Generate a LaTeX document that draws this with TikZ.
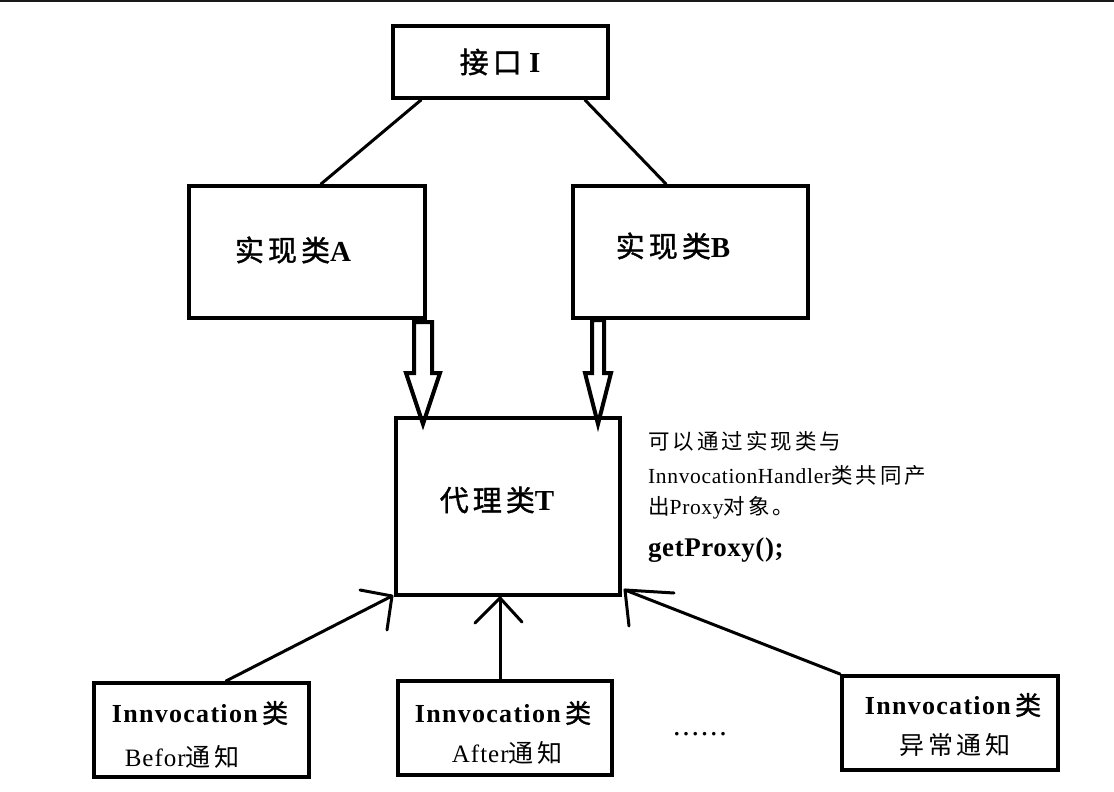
\documentclass[tikz,border=0pt]{standalone}
\usepackage{fontspec}
\setmainfont{Liberation Serif}
\newfontfamily\cjkfont[LetterSpace=14]{Noto Sans CJK SC}
\newfontfamily\cjkbfont[LetterSpace=14,FakeBold=1.2]{Noto Sans CJK SC}
\newcommand\zh[1]{{\cjkfont\mdseries #1}}
\newcommand\zhb[1]{{\cjkbfont\mdseries #1}}
\tikzset{
  box/.style={draw, line width=4pt, inner sep=0pt},
  conn/.style={line width=3pt, line cap=round, line join=round},
  hollow/.style={draw, line width=4pt, line join=miter},
  titletext/.style={inner sep=0pt, font=\fontsize{29}{34}\selectfont\bfseries},
  sidetext/.style={inner sep=0pt, anchor=west, font=\fontsize{21.5}{25}\selectfont\addfontfeature{LetterSpace=3}},
  innvtext/.style={inner sep=0pt, font=\fontsize{26}{30}\selectfont\bfseries\addfontfeature{LetterSpace=5}},
  notetext/.style={inner sep=0pt, font=\fontsize{25}{30}\selectfont\addfontfeature{LetterSpace=4}},
}
\begin{document}
\begin{tikzpicture}[x=1pt,y=-1pt]
\useasboundingbox (0,0) rectangle (1114,792);
\fill[white] (0,0) rectangle (1114,792);
\draw[line width=2pt, black!90] (0,1) -- (1114,1);

% boxes
\node[box, minimum width=215, minimum height=72] (I) at (500.5,62) {};
\node[box, minimum width=236, minimum height=132] (A) at (307,252) {};
\node[box, minimum width=235, minimum height=132] (B) at (690.5,252) {};
\node[box, minimum width=224, minimum height=177] (T) at (508,506.5) {};
\node[box, minimum width=215, minimum height=94] (N1) at (201.5,730) {};
\node[box, minimum width=214, minimum height=94] (N2) at (505,728) {};
\node[box, minimum width=216, minimum height=94] (N3) at (950,723) {};

% box texts
\node[titletext] (tI) at (500,62) {\zhb{接口} I};
\node[titletext] (tA) at (293,250) {\zhb{实现类}A};
\node[titletext] (tB) at (673,246) {\zhb{实现类}B};
\node[titletext] (tT) at (497,500) {\zhb{代理类}T};

\node[innvtext] (n1a) at (200,713) {Innvocation\,\zhb{类}};
\node[notetext] (n1b) at (182,757) {Befor\zh{通知}};
\node[innvtext] (n2a) at (503,713) {Innvocation\,\zhb{类}};
\node[notetext] (n2b) at (507,753) {After\zh{通知}};
\node[innvtext] (n3a) at (953,705) {Innvocation\,\zhb{类}};
\node[notetext] (n3b) at (955,745) {\zh{异常通知}};

% side text
\node[sidetext] (s1) at (648,441) {\zh{可以通过实现类与}};
\node[sidetext] (s2) at (648,475) {InnvocationHandler\zh{类共同产}};
\node[sidetext] (s3) at (648,508) {\zh{出}Proxy\zh{对象。}};
\node[sidetext, font=\fontsize{27}{30}\selectfont\bfseries\addfontfeature{LetterSpace=2}] (s4) at (648,550) {getProxy();};

\node[inner sep=0pt, font=\fontsize{30}{34}\selectfont\addfontfeature{LetterSpace=6}] (dots) at (700,734) {......};

% lines from interface
\coordinate (i1) at ([xshift=30]I.south west);
\coordinate (a1) at ([xshift=134]A.north west);
\coordinate (i2) at ([xshift=-25]I.south east);
\coordinate (b1) at ([xshift=95]B.north west);
\draw[conn] (i1) -- (a1);
\draw[conn] (i2) -- (b1);

% hollow arrows
\draw[hollow] (414,322) -- (432,322) -- (432,373) -- (440,373) -- (423,424) -- (406,373) -- (414,373) -- cycle;
\draw[hollow] (592,320) -- (604,320) -- (604,373) -- (611,373) -- (598,424) -- (585,373) -- (592,373) -- cycle;

% arrows from Innvocation boxes
\coordinate (t1) at (392,596);
\coordinate (st1) at ([xshift=134]N1.north west);
\draw[conn] (st1) -- (t1);
\draw[conn] (360,590) -- (t1) -- (387,630);

\coordinate (t2) at (500,598);
\coordinate (st2) at ([xshift=-5]N2.north);
\draw[conn] (st2) -- (t2);
\draw[conn] (475,623) -- (t2) -- (522,622);

\coordinate (t3) at (625,590);
\coordinate (st3) at (N3.north west);
\draw[conn] (st3) -- (t3);
\draw[conn] (674,593) -- (t3) -- (629,626);
\end{tikzpicture}
\end{document}
